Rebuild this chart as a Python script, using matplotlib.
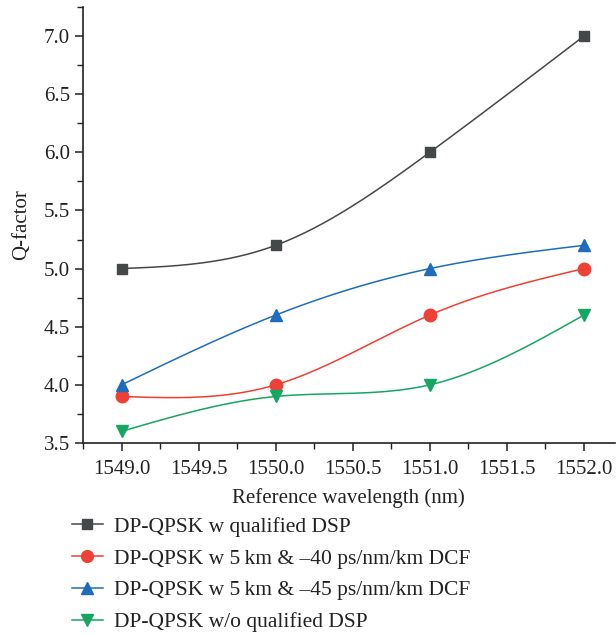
import numpy as np
import matplotlib
matplotlib.use("Agg")
import matplotlib.pyplot as plt
from matplotlib.ticker import MultipleLocator, FormatStrFormatter

plt.rcParams['font.family'] = ['Liberation Serif', 'DejaVu Serif']

wavelength = [1549.0, 1550.0, 1551.0, 1552.0]
q_with_dsp = [5.0, 5.2, 6.0, 7.0]
q_dcf_40 = [3.9, 4.0, 4.6, 5.0]
q_dcf_45 = [4.0, 4.6, 5.0, 5.2]
q_without_dsp = [3.6, 3.9, 4.0, 4.6]

labels = [
    "DP-QPSK w qualified DSP",
    "DP-QPSK w 5\u2009km & \u201340 ps/nm/km DCF",
    "DP-QPSK w 5\u2009km & \u201345 ps/nm/km DCF",
    "DP-QPSK w/o qualified DSP",
]
colors = ["#444849", "#ee4035", "#1f6cbf", "#16a664"]
markers = ["s", "o", "^", "v"]


def natural_spline(x, y, n=200):
    x = np.asarray(x, float)
    y = np.asarray(y, float)
    k = len(x)
    h = np.diff(x)
    A = np.zeros((k, k))
    b = np.zeros(k)
    A[0, 0] = A[-1, -1] = 1.0
    for i in range(1, k - 1):
        A[i, i - 1] = h[i - 1]
        A[i, i] = 2 * (h[i - 1] + h[i])
        A[i, i + 1] = h[i]
        b[i] = 3 * ((y[i + 1] - y[i]) / h[i] - (y[i] - y[i - 1]) / h[i - 1])
    c = np.linalg.solve(A, b)
    xs = np.linspace(x[0], x[-1], n)
    ys = np.empty_like(xs)
    for j, xv in enumerate(xs):
        i = min(np.searchsorted(x, xv, side="right") - 1, k - 2)
        dx = xv - x[i]
        bi = (y[i + 1] - y[i]) / h[i] - h[i] * (2 * c[i] + c[i + 1]) / 3
        di = (c[i + 1] - c[i]) / (3 * h[i])
        ys[j] = y[i] + bi * dx + c[i] * dx ** 2 + di * dx ** 3
    return xs, ys


fig = plt.figure(figsize=(6.16, 6.35), dpi=100)
ax = fig.add_axes([0.1347, 0.3024, 0.8633, 0.6866])

series = [q_with_dsp, q_dcf_40, q_dcf_45, q_without_dsp]
handles = []
for vals, col, mk, lab in zip(series, colors, markers, labels):
    xs, ys = natural_spline(wavelength, vals)
    ms = 7.5 if mk == "s" else 9
    ax.plot(xs, ys, color=col, lw=1.1, zorder=2)
    ax.plot(wavelength, vals, linestyle="none", marker=mk, color=col,
            markersize=ms, zorder=3)
    h, = ax.plot([], [], color=col, lw=1.1, marker=mk,
                 markersize=ms - 0.5, label=lab)
    handles.append(h)

ax.set_xlim(1548.75, 1552.2)
ax.set_ylim(3.5, 7.25)
ax.xaxis.set_major_locator(MultipleLocator(0.5))
ax.xaxis.set_minor_locator(MultipleLocator(0.25))
ax.yaxis.set_major_locator(MultipleLocator(0.5))
ax.yaxis.set_minor_locator(MultipleLocator(0.25))
ax.xaxis.set_major_formatter(FormatStrFormatter("%.1f"))
ax.yaxis.set_major_formatter(FormatStrFormatter("%.1f"))

for side in ("top", "right"):
    ax.spines[side].set_visible(False)
for side in ("left", "bottom"):
    ax.spines[side].set_color("#222222")
    ax.spines[side].set_linewidth(1.2)

ax.tick_params(axis="both", which="major", direction="out", length=6,
               width=1.1, labelsize=15, color="#222222", labelcolor="#222222")
ax.tick_params(axis="x", which="major", pad=6)
ax.tick_params(axis="both", which="minor", direction="out", length=4,
               width=1.0, color="#222222")

ax.set_xlabel("Reference wavelength (nm)", fontsize=15, color="#222222", labelpad=7)
ax.set_ylabel("Q-factor", fontsize=15, color="#222222", labelpad=9)

fig.legend(handles=handles, loc="upper left", bbox_to_anchor=(0.085, 0.217),
           frameon=False, fontsize=15.5, handlelength=1.45, handletextpad=0.5,
           labelspacing=0.55, labelcolor="#222222")

fig.savefig("out.png", dpi=100)
